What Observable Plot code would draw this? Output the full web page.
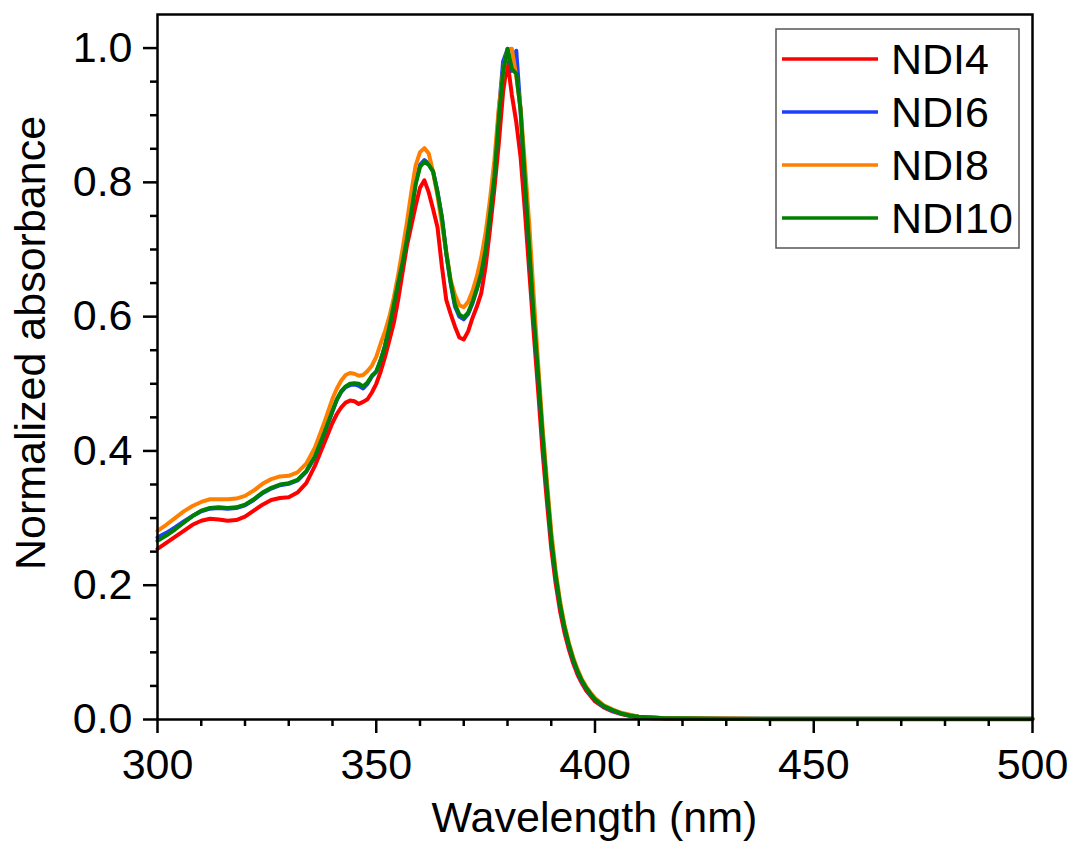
<!DOCTYPE html>
<html>
<head>
<meta charset="utf-8">
<script src="https://cdn.jsdelivr.net/npm/d3@7"></script>
<script src="https://cdn.jsdelivr.net/npm/@observablehq/plot@0.6"></script>
<style>
  html, body { margin: 0; padding: 0; background: white; }
</style>
</head>
<body>
<div id="chart"></div>
<script>
const wavelengths = [300,302,304,306,308,310,312,314,316,318,320,322,324,326,328,330,332,334,336,338,
  340,341,342,343,344,345,346,347,348,349,350,351,352,353,354,355,356,357,358,359,
  360,361,362,363,364,365,366,367,368,369,370,371,372,373,374,375,376,377,378,379,
  380,381,382,383,384,385,386,387,388,389,390,391,392,393,394,395,396,397,398,399,400,
  402,404,406,408,410,413,416,420,430,440,450,460,470,480,490,500];

const ndi4 = [0.254,0.263,0.272,0.281,0.290,0.296,0.299,0.298,0.296,0.297,0.302,0.311,0.320,0.327,0.330,0.331,0.338,0.352,0.378,0.410,
  0.442,0.455,0.465,0.472,0.475,0.474,0.470,0.473,0.477,0.487,
  0.500,0.518,0.540,0.565,0.590,0.625,0.665,0.705,0.735,0.765,
  0.792,0.803,0.785,0.760,0.733,0.675,0.625,0.604,0.585,0.569,
  0.566,0.578,0.598,0.615,0.635,0.675,0.730,0.790,0.857,0.935,
  0.980,0.930,0.890,0.837,0.755,0.665,0.575,0.490,0.400,0.325,
  0.255,0.203,0.162,0.130,0.105,0.084,0.067,0.054,0.043,0.035,0.027,
  0.018,0.012,0.008,0.005,0.003,0.002,0.0015,0.001,0.001,0.0005,0.0005,0.0005,0.0005,0.0005,0.0005,0.0005];

const ndi6 = [0.271,0.278,0.286,0.295,0.303,0.310,0.314,0.315,0.314,0.315,0.319,0.327,0.337,0.344,0.349,0.351,0.356,0.369,0.391,0.424,
  0.459,0.476,0.488,0.495,0.498,0.499,0.497,0.493,0.500,0.511,
  0.518,0.535,0.557,0.586,0.618,0.651,0.682,0.717,0.757,0.799,
  0.826,0.833,0.828,0.816,0.786,0.748,0.694,0.650,0.615,0.600,
  0.596,0.604,0.620,0.641,0.664,0.700,0.752,0.810,0.905,0.980,
  0.998,0.966,0.996,0.905,0.800,0.700,0.600,0.514,0.424,0.344,
  0.269,0.214,0.171,0.137,0.111,0.089,0.071,0.057,0.046,0.037,0.029,
  0.019,0.013,0.009,0.006,0.004,0.003,0.002,0.0015,0.001,0.001,0.001,0.001,0.001,0.001,0.001,0.001];

const ndi8 = [0.281,0.290,0.300,0.310,0.318,0.324,0.328,0.328,0.328,0.329,0.333,0.341,0.351,0.358,0.362,0.363,0.368,0.381,0.405,0.440,
  0.478,0.493,0.505,0.513,0.516,0.515,0.512,0.513,0.519,0.527,
  0.540,0.560,0.578,0.600,0.628,0.662,0.700,0.740,0.785,0.825,
  0.845,0.851,0.843,0.815,0.780,0.738,0.697,0.655,0.632,0.617,
  0.614,0.622,0.638,0.660,0.688,0.725,0.775,0.833,0.910,0.965,
  0.998,0.999,0.958,0.910,0.825,0.735,0.630,0.530,0.437,0.356,
  0.280,0.222,0.177,0.142,0.115,0.093,0.075,0.060,0.049,0.040,0.032,
  0.021,0.015,0.010,0.007,0.004,0.003,0.002,0.002,0.0015,0.001,0.001,0.001,0.001,0.001,0.001,0.001];

const ndi10 = [0.266,0.274,0.283,0.293,0.303,0.311,0.315,0.316,0.315,0.316,0.320,0.328,0.338,0.345,0.350,0.352,0.357,0.370,0.392,0.425,
  0.460,0.477,0.489,0.496,0.500,0.501,0.500,0.496,0.502,0.512,
  0.518,0.535,0.556,0.585,0.617,0.650,0.680,0.715,0.755,0.797,
  0.823,0.831,0.826,0.816,0.785,0.748,0.695,0.652,0.618,0.603,
  0.599,0.606,0.622,0.642,0.665,0.700,0.752,0.808,0.895,0.965,
  0.999,0.969,0.962,0.907,0.802,0.700,0.600,0.515,0.425,0.345,
  0.270,0.215,0.172,0.138,0.112,0.090,0.072,0.058,0.047,0.038,0.030,
  0.020,0.014,0.009,0.006,0.004,0.003,0.002,0.002,0.001,0.001,0.001,0.001,0.001,0.001,0.001,0.001];

const seriesNames = ["NDI4", "NDI6", "NDI8", "NDI10"];
const seriesValues = [ndi4, ndi6, ndi8, ndi10];
const seriesColors = ["#ff0000", "#1f3fff", "#ff8000", "#008000"];

const xMajorTicks = [300, 350, 400, 450, 500];
const xMinorTicks = d3.range(310, 500, 10).filter(v => v % 50 !== 0);
const yMajorTicks = [0, 0.2, 0.4, 0.6, 0.8, 1.0];
const yMinorTicks = d3.range(1, 21).map(i => i * 0.05).filter(v => Math.abs(v * 5 - Math.round(v * 5)) > 1e-6);

const xLabel = "Wavelength (nm)";
const yLabel = "Normalized absorbance";

const data = seriesNames.flatMap((name, si) =>
  wavelengths.map((w, i) => ({series: name, w, a: seriesValues[si][i]})));

const W = 1073, H = 844;
const mL = 157, mR = 41, mT = 14, mB = 125;
const FONT = "Arial, 'Liberation Sans', Helvetica, sans-serif";

const chart = Plot.plot({
  width: W, height: H,
  marginLeft: mL, marginRight: mR, marginTop: mT, marginBottom: mB,
  style: {fontFamily: FONT, fontSize: "43px", color: "black", background: "white", overflow: "visible"},
  x: {domain: [300, 500]},
  y: {domain: [0, 1.05]},
  color: {domain: seriesNames, range: seriesColors},
  marks: [
    Plot.line(data, {x: "w", y: "a", z: "series", stroke: "series", strokeWidth: 4, strokeLinejoin: "round", strokeLinecap: "round"}),
    Plot.frame({stroke: "black", strokeWidth: 2.5}),
    Plot.axisX(xMinorTicks, {tickSize: 7, strokeWidth: 2.5, text: null, label: null}),
    Plot.axisX(xMajorTicks, {tickSize: 14, tickPadding: 15, strokeWidth: 2.5, label: null, tickFormat: d3.format("d")}),
    Plot.axisY(yMinorTicks, {tickSize: 7, strokeWidth: 2.5, text: null, label: null}),
    Plot.axisY(yMajorTicks, {tickSize: 14, tickPadding: 11, strokeWidth: 2.5, label: null, tickFormat: d3.format(".1f")})
  ]
});

document.getElementById("chart").appendChild(chart);

const svg = d3.select(chart);

// Axis titles
svg.append("text")
  .attr("x", (mL + (W - mR)) / 2)
  .attr("y", 832)
  .attr("text-anchor", "middle")
  .attr("font-family", FONT)
  .attr("font-size", 43)
  .attr("fill", "black")
  .text(xLabel);

svg.append("text")
  .attr("transform", "translate(45,343) rotate(-90)")
  .attr("text-anchor", "middle")
  .attr("font-family", FONT)
  .attr("font-size", 43)
  .attr("fill", "black")
  .text(yLabel);

// Legend
const lg = svg.append("g");
lg.append("rect")
  .attr("x", 776).attr("y", 29).attr("width", 243).attr("height", 219)
  .attr("fill", "white").attr("stroke", "#555").attr("stroke-width", 1.5);
const rowY = [59, 112, 165, 218];
seriesNames.forEach((name, i) => {
  lg.append("line")
    .attr("x1", 782).attr("x2", 878)
    .attr("y1", rowY[i]).attr("y2", rowY[i])
    .attr("stroke", seriesColors[i]).attr("stroke-width", 3.5);
  lg.append("text")
    .attr("x", 891).attr("y", rowY[i])
    .attr("dy", "0.36em")
    .attr("text-anchor", "start")
    .attr("font-family", FONT)
    .attr("font-size", 43)
    .attr("fill", "black")
    .text(name);
});
</script>
</body>
</html>
